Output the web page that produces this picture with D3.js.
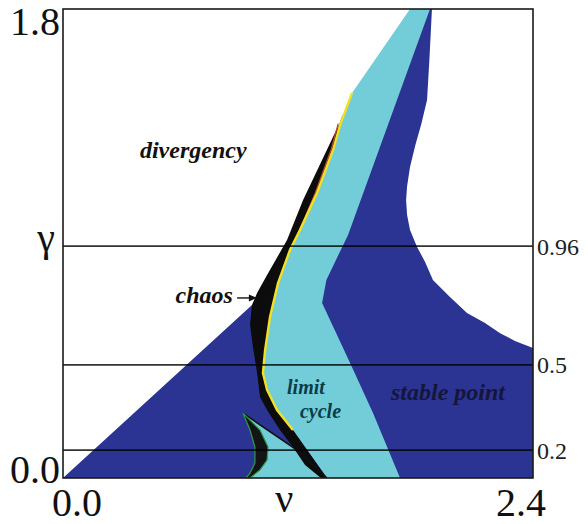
<!DOCTYPE html>
<html>
<head>
<meta charset="utf-8">
<script src="https://cdn.jsdelivr.net/npm/d3@7"></script>
<style>
  body { margin: 0; background: #fff; }
  text { font-family: "Liberation Serif", "DejaVu Serif", serif; }
</style>
</head>
<body>
<div id="chart"></div>
<script>
// boundaries of the regions in (nu, gamma)
var stableRegion = [[0, 0], [0.965, 0.664], [1.10, 0.664], [1.35, 1.10], [1.60, 1.50], [1.80, 1.8],
    [1.884, 1.8], [1.872, 1.62], [1.859, 1.451], [1.830, 1.36], [1.800, 1.28], [1.772, 1.194],
    [1.757, 1.12], [1.752, 1.067], [1.757, 1.009], [1.772, 0.952], [1.808, 0.887], [1.849, 0.829],
    [1.889, 0.760], [1.976, 0.695], [2.063, 0.633], [2.155, 0.595], [2.232, 0.556], [2.308, 0.526],
    [2.4, 0.499], [2.4, 0]];

var limitCycleRegion = [[1.772, 1.8], [1.476, 1.478], [1.415, 1.355], [1.379, 1.259], [1.297, 1.094],
    [1.210, 0.952], [1.159, 0.875], [1.098, 0.748], [1.057, 0.618], [1.032, 0.491], [1.021, 0.403],
    [1.042, 0.338], [1.093, 0.261], [1.174, 0.184], [1.348, 0], [1.721, 0], [1.583, 0.249],
    [1.466, 0.441], [1.323, 0.672], [1.345, 0.760], [1.456, 0.934], [1.874, 1.8]];

var chaosRegion = [[1.430, 1.40], [1.415, 1.355], [1.379, 1.259], [1.297, 1.094], [1.210, 0.952],
    [1.159, 0.875], [1.098, 0.748], [1.057, 0.618], [1.032, 0.491], [1.021, 0.403], [1.042, 0.338],
    [1.093, 0.261], [1.174, 0.184], [1.348, 0], [1.317, 0], [1.236, 0.050], [1.174, 0.119],
    [1.108, 0.184], [1.042, 0.261], [1.006, 0.311], [0.991, 0.403], [0.970, 0.503], [0.955, 0.587],
    [0.965, 0.664], [0.991, 0.710], [1.042, 0.779], [1.144, 0.913], [1.226, 1.067], [1.323, 1.220],
    [1.415, 1.366]];

var edgeLine = [[1.476, 1.478], [1.415, 1.355], [1.379, 1.259], [1.297, 1.094], [1.210, 0.952],
    [1.159, 0.875], [1.098, 0.748], [1.057, 0.618], [1.032, 0.491], [1.021, 0.403], [1.042, 0.338],
    [1.093, 0.261], [1.174, 0.184]];

var redLine = [[1.405, 1.36], [1.370, 1.262], [1.288, 1.094], [1.205, 0.945]];

var wedgeRegion = [[0.919, 0.249], [1.195, 0.107], [1.348, 0], [0.955, 0], [1.006, 0.031],
    [1.042, 0.069], [1.047, 0.119], [1.006, 0.184]];

var wedgeLine = [[0.919, 0.249], [1.195, 0.107], [1.348, 0]];

var cuspRegion = [[0.919, 0.249], [1.006, 0.184], [1.047, 0.119], [1.042, 0.069], [1.006, 0.031],
    [0.955, 0], [0.934, 0], [0.955, 0.019], [0.980, 0.058], [0.980, 0.119], [0.955, 0.184]];

var refLevels = [0.890, 0.434, 0.107];
var refLabels = ["0.96", "0.5", "0.2"];
var xTickValues = [0, 2.4];
var xTickLabels = ["0.0", "2.4"];
var yTickValues = [0, 1.8];
var yTickLabels = ["0.0", "1.8"];
var regionNames = ["divergency", "chaos", "limit", "cycle", "stable point"];

(function () {
    var width = 588,
        height = 524;

    var x = d3.scaleLinear().domain([0, 2.4]).range([63, 533]);
    var y = d3.scaleLinear().domain([0, 1.8]).range([478, 9]);

    var svg = d3.select("#chart")
        .append("svg")
        .attr("width", width)
        .attr("height", height);

    var line = d3.line()
        .x(function (d) { return x(d[0]); })
        .y(function (d) { return y(d[1]); });

    svg.append("path").attr("d", line(stableRegion) + "Z").attr("fill", "#2b3493");
    svg.append("path").attr("d", line(limitCycleRegion) + "Z").attr("fill", "#72cdd8");
    svg.append("path").attr("d", line(wedgeRegion) + "Z").attr("fill", "#72cdd8");
    svg.append("path").attr("d", line(chaosRegion) + "Z").attr("fill", "#0c0c0c");
    svg.append("path").attr("d", line(redLine)).attr("fill", "none")
        .attr("stroke", "#c4452a").attr("stroke-width", 1.2);
    svg.append("path").attr("d", line(edgeLine)).attr("fill", "none")
        .attr("stroke", "#f4e020").attr("stroke-width", 2.4);
    svg.append("path").attr("d", line(wedgeLine)).attr("fill", "none")
        .attr("stroke", "#111").attr("stroke-width", 1.6);
    svg.append("path").attr("d", line(cuspRegion) + "Z").attr("fill", "#141414")
        .attr("stroke", "#2e9a4a").attr("stroke-width", 1.2);

    // reference levels
    svg.selectAll(".ref")
        .data(refLevels)
        .enter().append("line")
        .attr("class", "ref")
        .attr("x1", x(0)).attr("x2", x(2.4))
        .attr("y1", function (d) { return y(d); })
        .attr("y2", function (d) { return y(d); })
        .attr("stroke", "#000")
        .attr("stroke-opacity", 0.8)
        .attr("stroke-width", 1.6);

    svg.selectAll(".ref-label")
        .data(refLevels)
        .enter().append("text")
        .attr("class", "ref-label")
        .attr("x", x(2.4) + 4)
        .attr("y", function (d) { return y(d); })
        .attr("dy", "0.35em")
        .attr("font-size", 24)
        .attr("fill", "#222")
        .text(function (d, i) { return refLabels[i]; });

    // frame
    svg.append("rect")
        .attr("x", x(0)).attr("y", y(1.8))
        .attr("width", x(2.4) - x(0)).attr("height", y(0) - y(1.8))
        .attr("fill", "none")
        .attr("stroke", "#1a1a1a")
        .attr("stroke-width", 1.6);

    // tick labels
    svg.selectAll(".ytick")
        .data(yTickValues)
        .enter().append("text")
        .attr("class", "ytick")
        .attr("x", x(0) - 3)
        .attr("y", function (d) { return d === 0 ? y(d) + 5 : y(d) + 26; })
        .attr("text-anchor", "end")
        .attr("font-size", 40)
        .attr("fill", "#111")
        .text(function (d, i) { return yTickLabels[i]; });

    svg.selectAll(".xtick")
        .data(xTickValues)
        .enter().append("text")
        .attr("class", "xtick")
        .attr("x", function (d) { return d === 0 ? x(d) + 14 : x(d) - 12; })
        .attr("y", y(0) + 38)
        .attr("text-anchor", "middle")
        .attr("font-size", 40)
        .attr("fill", "#111")
        .text(function (d, i) { return xTickLabels[i]; });

    svg.append("text")
        .attr("x", x(1.13)).attr("y", y(0) + 34)
        .attr("text-anchor", "middle")
        .attr("font-size", 40)
        .attr("fill", "#111")
        .text("ν");

    svg.append("text")
        .attr("x", 46).attr("y", 251)
        .attr("text-anchor", "middle")
        .attr("font-size", 40)
        .attr("fill", "#111")
        .text("γ");

    // region names
    var names = svg.append("g")
        .attr("font-weight", "bold")
        .attr("font-style", "italic")
        .attr("font-size", 24);

    names.append("text").attr("x", x(0.393)).attr("y", y(1.228)).attr("fill", "#111").text(regionNames[0]);
    names.append("text").attr("x", x(0.575)).attr("y", y(0.672)).attr("fill", "#111").text(regionNames[1]);
    names.append("text").attr("x", x(1.144)).attr("y", y(0.322)).attr("font-size", 20)
        .attr("fill", "#0b3c48").text(regionNames[2]);
    names.append("text").attr("x", x(1.210)).attr("y", y(0.230)).attr("font-size", 20)
        .attr("fill", "#0b3c48").text(regionNames[3]);
    names.append("text").attr("x", x(1.675)).attr("y", y(0.299)).attr("fill", "#14163c").text(regionNames[4]);

    // arrow to the chaos band
    svg.append("line")
        .attr("x1", x(0.889)).attr("x2", x(0.975))
        .attr("y1", y(0.691)).attr("y2", y(0.691))
        .attr("stroke", "#111").attr("stroke-width", 1.4);
    svg.append("path")
        .attr("d", "M" + x(0.99) + "," + y(0.691) + "l-8,-3.5l0,7Z")
        .attr("fill", "#111");
})();
</script>
</body>
</html>
